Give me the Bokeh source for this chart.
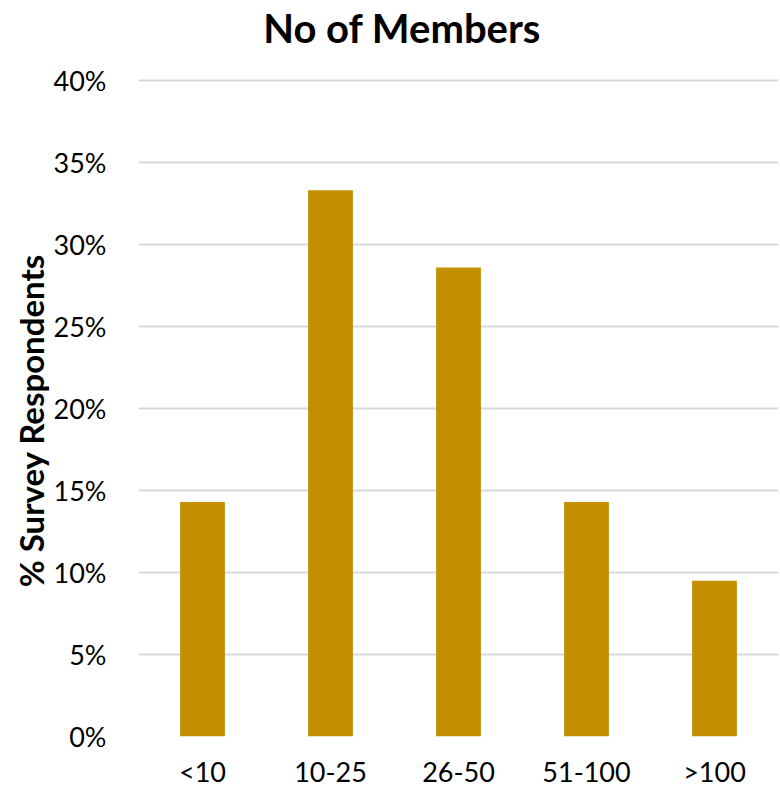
from bokeh.plotting import figure
from bokeh.models import NumeralTickFormatter, FixedTicker, Label
from bokeh.embed import file_html
from bokeh.resources import INLINE

categories = ["<10", "10-25", "26-50", "51-100", ">100"]
values = [0.143, 0.333, 0.286, 0.143, 0.095]
y_ticks = [0, 0.05, 0.10, 0.15, 0.20, 0.25, 0.30, 0.35, 0.40]
title_text = "No of Members"
y_label = "% Survey Respondents"

FONT = "Lato"

# the frame extends above the 40% line so that the title can sit inside it
p = figure(x_range=categories, y_range=(0, 0.4487), width=779, height=790,
           output_backend="svg", toolbar_location=None,
           min_border_left=138, min_border_right=1, min_border_top=0,
           min_border_bottom=50)

p.vbar(x=categories, top=values, width=0.35, color="#C48F00", line_color=None)

p.add_layout(Label(x=2.06, y=0.4317, text=title_text, text_font=FONT,
                   text_font_size="40px", text_font_style="bold",
                   text_color="black", text_baseline="middle",
                   text_align="center"))

p.outline_line_color = None
p.xgrid.grid_line_color = None
p.ygrid.grid_line_color = "#D9D9D9"
p.ygrid.grid_line_width = 2
p.yaxis.ticker = FixedTicker(ticks=y_ticks)
p.yaxis.formatter = NumeralTickFormatter(format="0%")
p.yaxis.bounds = (0, 0.4)

for ax in (p.xaxis, p.yaxis):
    ax.axis_line_color = None
    ax.major_tick_line_color = None
    ax.minor_tick_line_color = None
    ax.major_label_text_font = FONT
    ax.major_label_text_font_size = "27px"
    ax.major_label_text_color = "black"

p.xaxis.major_label_standoff = 12
p.yaxis.major_label_standoff = 26
# trailing no-break spaces centre the rotated label on the 0-40% span
p.yaxis.axis_label = y_label + "\u00a0" * 13
p.yaxis.axis_label_text_font = FONT
p.yaxis.axis_label_text_font_size = "33px"
p.yaxis.axis_label_text_font_style = "bold"
p.yaxis.axis_label_text_color = "black"
p.yaxis.axis_label_standoff = 0

open("out.html", "w").write(file_html(p, INLINE))
